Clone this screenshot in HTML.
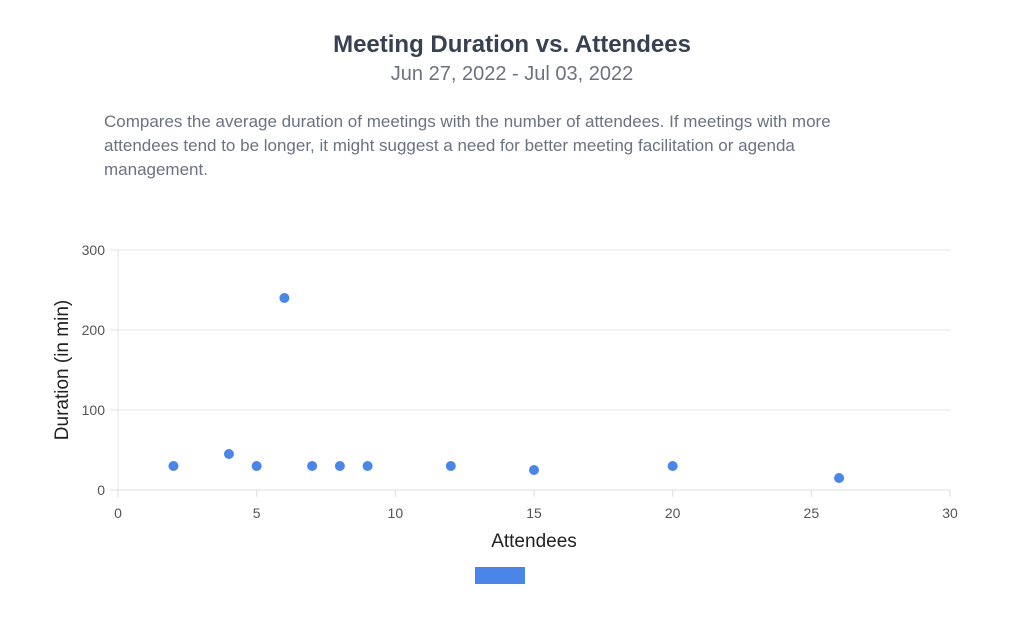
<!DOCTYPE html>
<html><head><meta charset="utf-8"><style>
body{margin:0;width:1024px;height:619px;background:#fff;font-family:"Liberation Sans",sans-serif;overflow:hidden}
.t{position:absolute;left:0;width:1024px;text-align:center}
</style></head><body>
<div class="t" style="top:31px;font-size:24px;font-weight:bold;color:#374151">Meeting Duration vs. Attendees</div>
<div class="t" style="top:63px;font-size:20px;color:#6b7280">Jun 27, 2022 - Jul 03, 2022</div>
<div style="position:absolute;left:104px;top:110px;width:785px;font-size:17px;line-height:24px;color:#6b7280">Compares the average duration of meetings with the number of attendees. If meetings with more attendees tend to be longer, it might suggest a need for better meeting facilitation or agenda management.</div>
<svg id="c" width="1024" height="619" style="position:absolute;left:0;top:0" font-family="Liberation Sans, sans-serif"></svg>
<div style="position:absolute;left:475px;top:567px;width:50px;height:17px;background:#4a86e8"></div>
<script>
const xVals=[2,4,5,6,7,8,9,12,15,20,26];
const yVals=[30,45,30,240,30,30,30,30,25,30,15];
const xTicks=[0,5,10,15,20,25,30];
const yTicks=[0,100,200,300];
const svg=document.getElementById('c');const NS='http://www.w3.org/2000/svg';
const X=v=>118+v*(950-118)/30, Y=v=>490-v*240/300;
function mk(t,a,p){const e=document.createElementNS(NS,t);for(const k in a)e.setAttribute(k,a[k]);(p||svg).appendChild(e);return e;}
yTicks.forEach(v=>{const g=mk('line',{x1:110,x2:950,y1:Y(v),y2:Y(v),stroke:v===0?'#ddd':'#e6e6e6','stroke-width':1});

const t=mk('text',{x:105,y:Y(v)+5,'text-anchor':'end','font-size':14,fill:'#555'});t.textContent=v;
});
const ax=mk('line',{x1:118,x2:118,y1:250,y2:498,stroke:'#e6e6e6'});

xTicks.forEach(v=>{const l=mk('line',{x1:X(v),x2:X(v),y1:490,y2:497,stroke:'#ddd'});

const t=mk('text',{x:X(v),y:518,'text-anchor':'middle','font-size':14,fill:'#555'});t.textContent=v;
});
xVals.forEach((x,i)=>{const c=mk('circle',{cx:X(x),cy:Y(yVals[i]),r:5,fill:'#4a86e8'});
});
const xt=mk('text',{x:534,y:547,'text-anchor':'middle','font-size':19,fill:'#222'});xt.textContent='Attendees';

const yt=mk('text',{x:0,y:0,'text-anchor':'middle','font-size':19,fill:'#222',transform:'translate(68,370) rotate(-90)'});yt.textContent='Duration (in min)';

</script>
</body></html>
